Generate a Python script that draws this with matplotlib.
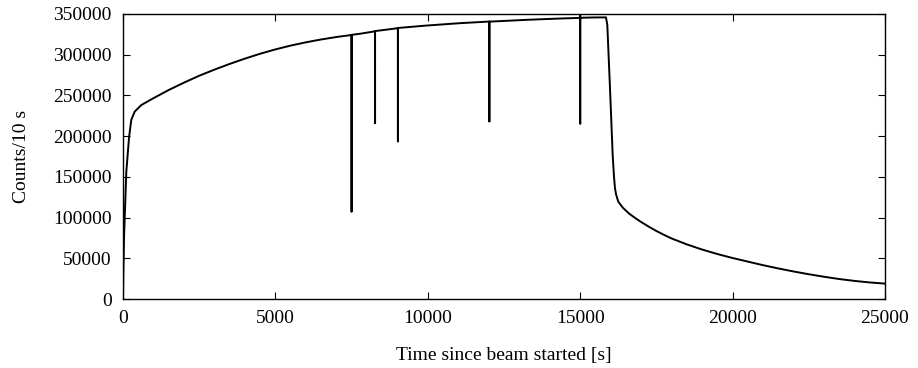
import matplotlib
matplotlib.use("Agg")
import matplotlib.pyplot as plt

# Zeit seit Strahlstart [s] und Zaehlrate pro 10 s
time_s = [0, 10, 33, 108, 197, 272, 384, 600, 929, 1500, 2000, 2500, 3000,
          3500, 4000, 4500, 5000, 5500, 6000, 6500, 7000, 7499, 7500, 7501,
          7776, 8269, 8270, 8271, 8868, 9019, 9020, 9021, 9963, 11056,
          12019, 12020, 12021, 12150, 13244, 14337, 14999, 15000, 15001,
          15002, 15430, 15846, 15890, 15978, 16066, 16110, 16142, 16180,
          16250, 16400, 16600, 16800, 17000, 17250, 17500, 17750, 18000,
          18500, 19000, 19500, 20000, 20500, 21000, 21500, 22000, 22500,
          23000, 23500, 24000, 24500, 25000]
counts = [0, 30000, 75000, 156000, 198000, 220000, 230000, 238000, 245000,
          256500, 265500, 274000, 281500, 288500, 295000, 301000, 306300,
          311000, 315000, 318500, 321500, 324000, 107000, 324200, 325500,
          328500, 215700, 328800, 331600, 332500, 193200, 332600, 335600,
          338500, 340500, 217700, 340500, 340600, 342600, 344200, 345000,
          349000, 214900, 345100, 345500, 345600, 336500, 259000, 177000,
          150000, 136000, 128000, 119500, 112000, 105000, 99500, 94500,
          88800, 83500, 78700, 74300, 67000, 60700, 55200, 50300, 45900,
          41500, 37500, 33800, 30400, 27300, 24500, 22200, 20300, 18900]

xticks = [0, 5000, 10000, 15000, 20000, 25000]
yticks = [0, 50000, 100000, 150000, 200000, 250000, 300000, 350000]

plt.rcParams['font.family'] = ['Liberation Serif', 'DejaVu Serif']
plt.rcParams['font.size'] = 14

fig = plt.figure(figsize=(9.18, 3.68), dpi=100)
ax = fig.add_axes([0.134, 0.1875, 0.830, 0.775])

ax.plot(time_s, counts, color='black', linewidth=1.4)

ax.set_xlim(0, 25000)
ax.set_ylim(0, 350000)
ax.set_xticks(xticks)
ax.set_yticks(yticks)
ax.set_xticklabels([str(t) for t in xticks])
ax.set_yticklabels([str(t) for t in yticks])
ax.tick_params(direction='in', length=5, width=0.8, top=True, right=True, pad=8)
for s in ax.spines.values():
    s.set_linewidth(1.0)

ax.set_xlabel('Time since beam started [s]', labelpad=14)
ax.set_ylabel('Counts/10 s', labelpad=17)

fig.savefig('out.png', dpi=100)
